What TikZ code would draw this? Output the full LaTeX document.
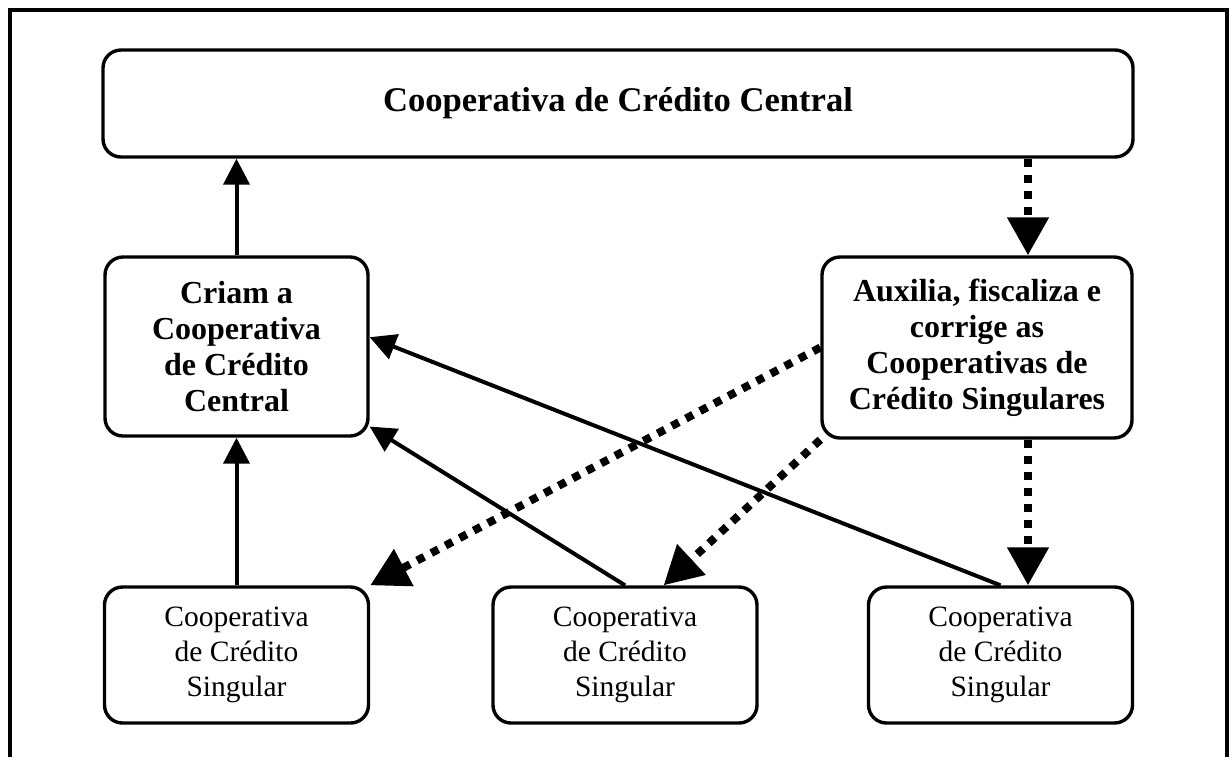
\documentclass[tikz,border=0pt]{standalone}
\usepackage{fontspec}
\setmainfont{Liberation Serif}
\usetikzlibrary{arrows.meta}
\newcommand{\titulofont}{\fontsize{17.3}{20}\selectfont\bfseries}
\newcommand{\negritofont}{\fontsize{16}{18}\selectfont\bfseries}
\newcommand{\caixafont}{\fontsize{14.75}{17.5}\selectfont}
\tikzset{
  caixa/.style={draw,line width=1.7pt,rounded corners=9pt,align=center,inner sep=0pt},
  singular/.style={caixa,minimum width=132pt,minimum height=68pt,font=\caixafont},
  seta/.style={line width=2pt,-{Triangle[length=13pt,width=13pt]}},
  pontilhada/.style={line width=4pt,dash pattern=on 4pt off 4pt,-{Triangle[length=19pt,width=20pt]}}
}
\begin{document}
\begin{tikzpicture}[x=0.5pt,y=-0.5pt]
  \useasboundingbox (0,0) rectangle (1230,757);
  \draw[line width=2pt] (10,757) -- (10,10) -- (1227,10) -- (1227,757);
  \node[caixa,minimum width=515pt,minimum height=53.5pt,font=\titulofont] (cen) at (618,103.5)
    {Cooperativa de Crédito Central};
  \node[caixa,minimum width=131.5pt,minimum height=89.5pt,font=\negritofont] (crm) at (236.5,346.5)
    {Criam a\\Cooperativa\\de Crédito\\Central};
  \node[caixa,minimum width=155pt,minimum height=90.5pt,font=\negritofont] (aux) at (977,347.5)
    {Auxilia, fiscaliza e\\corrige as\\Cooperativas de\\Crédito Singulares};
  \node[singular] (bl) at (236.5,655) {Cooperativa\\de Crédito\\Singular};
  \node[singular] (bm) at (625,655) {Cooperativa\\de Crédito\\Singular};
  \node[singular] (br) at (1000.5,655) {Cooperativa\\de Crédito\\Singular};
  \coordinate (dl) at (1028,0);
  \draw[seta] (crm.north) -- (crm.north |- cen.south);
  \draw[seta] (bl.north) -- (bl.north |- crm.south);
  \draw[seta] (bm.north) -- (crm.-31);
  \draw[seta] (br.north) -- (crm.4);
  \draw[pontilhada] (dl |- cen.south) -- (dl |- aux.north);
  \draw[pontilhada] (dl |- aux.south) -- (dl |- br.north);
  \draw[pontilhada] (aux.west) -- (bl.north east);
  \draw[pontilhada] (aux.south west) -- (bm.61);
\end{tikzpicture}
\end{document}
